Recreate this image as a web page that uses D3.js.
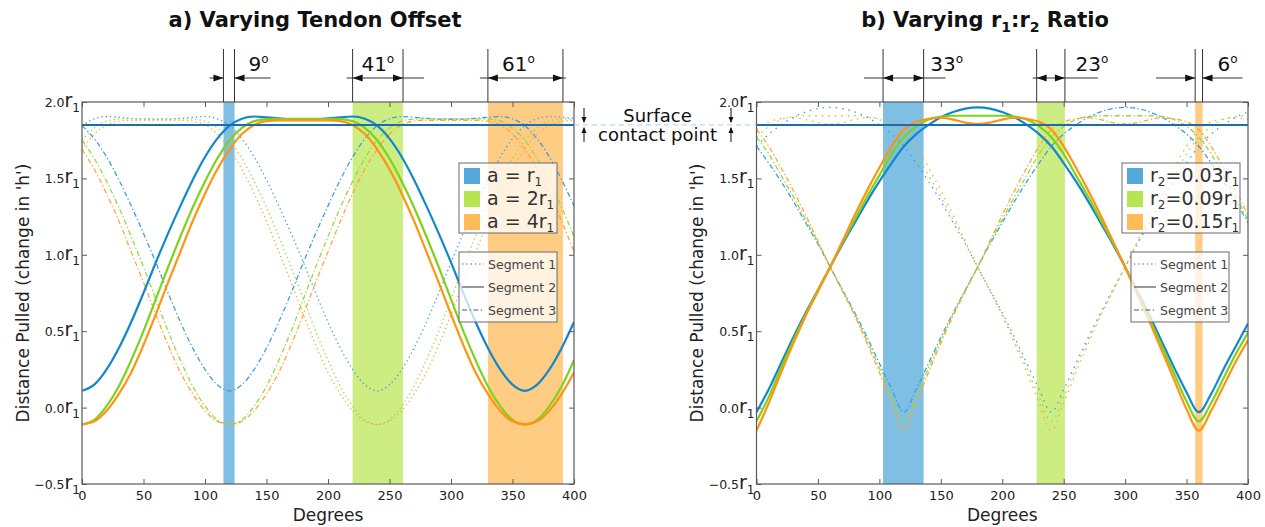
<!DOCTYPE html>
<html>
<head>
<meta charset="utf-8">
<script src="https://cdn.jsdelivr.net/npm/d3@7"></script>
<style>
body{margin:0;background:#fff;}
svg{font-family:"DejaVu Sans",Verdana,sans-serif;}
</style>
</head>
<body>
<svg id="chart" width="1265" height="527"></svg>
<script>
'use strict'

// ---- data ----
const degrees = [0,10,20,30,40,50,60,70,80,90,100,110,120,130,140,150,160,170,180,190,200,210,220,230,240,250,260,270,280,290,300,310,320,330,340,350,360,370,380,390,400]
const xTicks = [0,50,100,150,200,250,300,350,400]
const yTicks = [-0.5,0,0.5,1,1.5,2]
const contactHeight = 1.85

// a) varying tendon offset
const tendonLabels = ["r", "2r", "4r"]
const tendonBlueSeg1 = [1.845,1.89,1.905,1.90,1.893,1.888,1.887,1.888,1.893,1.90,1.905,1.89,1.845,1.76,1.64,1.49,1.32,1.14,0.95,0.75,0.56,0.39,0.25,0.15,0.11,0.15,0.25,0.39,0.56,0.75,0.95,1.14,1.32,1.49,1.64,1.76,1.845,1.89,1.905,1.90,1.893]
const tendonBlueSeg2 = [0.11,0.15,0.25,0.39,0.56,0.75,0.95,1.14,1.32,1.49,1.64,1.76,1.845,1.89,1.905,1.90,1.893,1.888,1.887,1.888,1.893,1.90,1.905,1.89,1.845,1.76,1.64,1.49,1.32,1.14,0.95,0.75,0.56,0.39,0.25,0.15,0.11,0.15,0.25,0.39,0.56]
const tendonBlueSeg3 = [1.845,1.76,1.64,1.49,1.32,1.14,0.95,0.75,0.56,0.39,0.25,0.15,0.11,0.15,0.25,0.39,0.56,0.75,0.95,1.14,1.32,1.49,1.64,1.76,1.845,1.89,1.905,1.90,1.893,1.888,1.887,1.888,1.893,1.90,1.905,1.89,1.845,1.76,1.64,1.49,1.32]
const tendonGreenSeg1 = [1.75,1.83,1.875,1.888,1.89,1.89,1.89,1.89,1.89,1.888,1.875,1.83,1.75,1.63,1.48,1.31,1.12,0.92,0.71,0.50,0.31,0.14,0.01,-0.08,-0.11,-0.08,0.01,0.14,0.31,0.50,0.71,0.92,1.12,1.31,1.48,1.63,1.75,1.83,1.875,1.888,1.89]
const tendonGreenSeg2 = [-0.11,-0.08,0.01,0.14,0.31,0.50,0.71,0.92,1.12,1.31,1.48,1.63,1.75,1.83,1.875,1.888,1.89,1.89,1.89,1.89,1.89,1.888,1.875,1.83,1.75,1.63,1.48,1.31,1.12,0.92,0.71,0.50,0.31,0.14,0.01,-0.08,-0.11,-0.08,0.01,0.14,0.31]
const tendonGreenSeg3 = [1.75,1.63,1.48,1.31,1.12,0.92,0.71,0.50,0.31,0.14,0.01,-0.08,-0.11,-0.08,0.01,0.14,0.31,0.50,0.71,0.92,1.12,1.31,1.48,1.63,1.75,1.83,1.875,1.888,1.89,1.89,1.89,1.89,1.89,1.888,1.875,1.83,1.75,1.63,1.48,1.31,1.12]
const tendonOrangeSeg1 = [1.69,1.79,1.85,1.875,1.88,1.88,1.88,1.88,1.88,1.875,1.85,1.79,1.69,1.56,1.40,1.22,1.02,0.82,0.61,0.41,0.23,0.09,-0.02,-0.09,-0.11,-0.09,-0.02,0.09,0.23,0.41,0.61,0.82,1.02,1.22,1.40,1.56,1.69,1.79,1.85,1.875,1.88]
const tendonOrangeSeg2 = [-0.11,-0.09,-0.02,0.09,0.23,0.41,0.61,0.82,1.02,1.22,1.40,1.56,1.69,1.79,1.85,1.875,1.88,1.88,1.88,1.88,1.88,1.875,1.85,1.79,1.69,1.56,1.40,1.22,1.02,0.82,0.61,0.41,0.23,0.09,-0.02,-0.09,-0.11,-0.09,-0.02,0.09,0.23]
const tendonOrangeSeg3 = [1.69,1.56,1.40,1.22,1.02,0.82,0.61,0.41,0.23,0.09,-0.02,-0.09,-0.11,-0.09,-0.02,0.09,0.23,0.41,0.61,0.82,1.02,1.22,1.40,1.56,1.69,1.79,1.85,1.875,1.88,1.88,1.88,1.88,1.88,1.875,1.85,1.79,1.69,1.56,1.40,1.22,1.02]
const tendonBands = [[115,124],[220,261],[330,391]]
const tendonBandDegrees = ["9","41","61"]

// b) varying r1:r2 ratio
const ratioLabels = ["0.03r", "0.09r", "0.15r"]
const ratioBlueSeg1 = [1.71,1.79,1.85,1.90,1.935,1.957,1.965,1.957,1.935,1.90,1.85,1.79,1.71,1.60,1.48,1.35,1.21,1.07,0.92,0.77,0.62,0.46,0.29,0.12,-0.03,0.12,0.29,0.46,0.62,0.77,0.92,1.07,1.21,1.35,1.48,1.60,1.71,1.79,1.85,1.90,1.935]
const ratioBlueSeg2 = [-0.03,0.12,0.29,0.46,0.62,0.77,0.92,1.07,1.21,1.35,1.48,1.60,1.71,1.79,1.85,1.90,1.935,1.957,1.965,1.957,1.935,1.90,1.85,1.79,1.71,1.60,1.48,1.35,1.21,1.07,0.92,0.76,0.60,0.43,0.26,0.10,-0.03,0.09,0.25,0.40,0.55]
const ratioBlueSeg3 = [1.71,1.60,1.48,1.35,1.21,1.07,0.92,0.77,0.62,0.46,0.29,0.12,-0.03,0.12,0.29,0.46,0.62,0.77,0.92,1.07,1.21,1.35,1.48,1.60,1.71,1.79,1.85,1.90,1.935,1.957,1.965,1.957,1.935,1.90,1.85,1.79,1.71,1.60,1.48,1.35,1.21]
const ratioGreenSeg1 = [1.77,1.84,1.885,1.905,1.91,1.91,1.91,1.91,1.91,1.905,1.885,1.84,1.77,1.66,1.52,1.38,1.23,1.08,0.92,0.77,0.61,0.44,0.26,0.07,-0.09,0.07,0.26,0.44,0.61,0.77,0.92,1.08,1.23,1.38,1.52,1.66,1.77,1.84,1.885,1.905,1.91]
const ratioGreenSeg2 = [-0.09,0.07,0.26,0.44,0.61,0.77,0.92,1.08,1.23,1.38,1.52,1.66,1.77,1.84,1.885,1.905,1.91,1.91,1.91,1.91,1.91,1.905,1.885,1.84,1.77,1.66,1.52,1.38,1.23,1.08,0.92,0.75,0.58,0.40,0.22,0.04,-0.09,0.03,0.19,0.35,0.49]
const ratioGreenSeg3 = [1.77,1.66,1.52,1.38,1.23,1.08,0.92,0.77,0.61,0.44,0.26,0.07,-0.09,0.07,0.26,0.44,0.61,0.77,0.92,1.08,1.23,1.38,1.52,1.66,1.77,1.84,1.885,1.905,1.91,1.91,1.91,1.91,1.91,1.905,1.885,1.84,1.77,1.66,1.52,1.38,1.23]
const ratioOrangeSeg1 = [1.82,1.87,1.89,1.897,1.885,1.865,1.856,1.865,1.885,1.897,1.89,1.87,1.82,1.71,1.57,1.42,1.26,1.09,0.92,0.76,0.60,0.42,0.23,0.03,-0.15,0.03,0.23,0.42,0.60,0.76,0.92,1.09,1.26,1.42,1.57,1.71,1.82,1.87,1.89,1.897,1.885]
const ratioOrangeSeg2 = [-0.15,0.03,0.23,0.42,0.60,0.76,0.92,1.09,1.26,1.42,1.57,1.71,1.82,1.87,1.89,1.897,1.885,1.865,1.856,1.865,1.885,1.897,1.89,1.87,1.82,1.71,1.57,1.42,1.26,1.09,0.92,0.74,0.56,0.37,0.18,-0.01,-0.15,-0.02,0.14,0.30,0.44]
const ratioOrangeSeg3 = [1.82,1.71,1.57,1.42,1.26,1.09,0.92,0.76,0.60,0.42,0.23,0.03,-0.15,0.03,0.23,0.42,0.60,0.76,0.92,1.09,1.26,1.42,1.57,1.71,1.82,1.87,1.89,1.897,1.885,1.865,1.856,1.865,1.885,1.897,1.89,1.87,1.82,1.71,1.57,1.42,1.26]
const ratioBands = [[103,136],[228,251],[357,363]]
const ratioBandDegrees = ["33","23","6"]

const segmentNames = ["Segment 1", "Segment 2", "Segment 3"]

// ---- styles ----
const lineColors = ["#1187d0", "#7dd31b", "#ff9412"]
const dotColors = ["#3d9fdd", "#94da3c", "#ffa638"]
const patchColors = ["#55a8da", "#b6e552", "#ffbb58"]
const bandColors = ["#7fbfe3", "#cdec82", "#ffcc84"]
const segDash = ["1.3,3", null, "5,2.5,1.3,2.5"]

const plotTop = 102, plotBottom = 484
const svg = d3.select("#chart")

function arrowHead(g, x, yy, dir){
	g.append("path")
		.attr("d", "M" + x + "," + yy + "L" + (x - dir*10) + "," + (yy - 3.5) + "L" + (x - dir*10) + "," + (yy + 3.5) + "Z")
		.attr("fill", "#111")
}

function drawPanel(p){
	let x = d3.scaleLinear().domain([0, 400]).range([p.x0, p.x1])
	let y = d3.scaleLinear().domain([-0.5, 2]).range([plotBottom, plotTop])
	let g = svg.append("g")

	svg.append("clipPath").attr("id", "clip" + p.id)
		.append("rect").attr("x", p.x0).attr("y", plotTop).attr("width", p.x1 - p.x0).attr("height", plotBottom - plotTop)

	// shaded bands
	g.selectAll(".band").data(p.bands).join("rect")
		.attr("class", "band")
		.attr("x", d => x(d[0])).attr("width", d => x(d[1]) - x(d[0]))
		.attr("y", plotTop).attr("height", plotBottom - plotTop)
		.attr("fill", (d, i) => bandColors[i])

	let line = d3.line().x((d, i) => x(degrees[i])).y(d => y(d)).curve(d3.curveMonotoneX)
	let cg = g.append("g").attr("clip-path", "url(#clip" + p.id + ")")

	// segments 1 and 3 first, solid segment 2 on top
	;[0, 2, 1].forEach(function(s){
		p.series.forEach(function(ser, c){
			cg.append("path")
				.attr("d", line(ser[s]))
				.attr("fill", "none")
				.attr("stroke", s == 1 ? lineColors[c] : dotColors[c])
				.attr("stroke-width", s == 1 ? 2.2 : 1.3)
				.attr("stroke-dasharray", s == 0 ? p.dotDash : segDash[s])
		})
	})

	// surface contact line
	g.append("line")
		.attr("x1", p.x0).attr("x2", p.x1)
		.attr("y1", y(contactHeight)).attr("y2", y(contactHeight))
		.attr("stroke", "#1d6cae").attr("stroke-width", 2)

	// box + inward ticks
	g.append("rect").attr("x", p.x0).attr("y", plotTop).attr("width", p.x1 - p.x0).attr("height", plotBottom - plotTop)
		.attr("fill", "none").attr("stroke", "#5a5a5a").attr("stroke-width", 1.2)

	let xb = g.append("g").attr("transform", "translate(0," + plotBottom + ")")
		.call(d3.axisBottom(x).tickValues(xTicks).tickSize(-5).tickPadding(7).tickFormat(d3.format("d")))
	xb.select(".domain").remove()
	xb.selectAll("line").attr("stroke", "#5a5a5a")
	xb.selectAll("text").attr("font-size", 13).attr("fill", "#222").attr("font-family", "DejaVu Sans")

	let xt = g.append("g").attr("transform", "translate(0," + plotTop + ")")
		.call(d3.axisTop(x).tickValues(xTicks).tickSize(-5).tickFormat(""))
	xt.select(".domain").remove()
	xt.selectAll("line").attr("stroke", "#5a5a5a")

	let yl = g.append("g").attr("transform", "translate(" + p.x0 + ",0)")
		.call(d3.axisLeft(y).tickValues(yTicks).tickSize(-5).tickFormat(""))
	yl.select(".domain").remove()
	yl.selectAll("line").attr("stroke", "#5a5a5a")

	let yr = g.append("g").attr("transform", "translate(" + p.x1 + ",0)")
		.call(d3.axisRight(y).tickValues(yTicks).tickSize(-5).tickFormat(""))
	yr.select(".domain").remove()
	yr.selectAll("line").attr("stroke", "#5a5a5a")

	let fmt = d3.format(".1f")
	let ylab = g.selectAll(".ylab").data(yTicks).join("text")
		.attr("class", "ylab")
		.attr("x", p.x0 - 2).attr("y", d => y(d) + 5)
		.attr("text-anchor", "end").attr("fill", "#222")
	ylab.append("tspan").attr("font-size", 12.5).text(d => fmt(d))
	ylab.append("tspan").attr("font-size", 19).text("r")
	ylab.append("tspan").attr("font-size", 12).attr("dy", 5).text("1")

	// axis titles
	g.append("text").attr("x", (p.x0 + p.x1)/2).attr("y", 521).attr("text-anchor", "middle")
		.attr("font-size", 17).attr("fill", "#222").text("Degrees")
	g.append("text").attr("transform", "translate(" + p.ylabelX + "," + ((plotTop + plotBottom)/2) + ") rotate(-90)")
		.attr("text-anchor", "middle").attr("dy", "0.35em")
		.attr("font-size", 17).attr("fill", "#222").text("Distance Pulled (change in 'h')")

	// title
	let t = g.append("text").attr("x", p.titleX).attr("y", 27).attr("text-anchor", "middle")
		.attr("font-size", 21).attr("font-weight", "bold").attr("fill", "#111")
	p.title.forEach(function(part){
		let ts = t.append("tspan").text(part[0])
		if (part[1] == "sub") ts.attr("font-size", 14).attr("dy", 5)
		if (part[1] == "up") ts.attr("dy", -5)
	})

	// dimension arrows above the bands
	let ag = g.append("g")
	p.bands.forEach(function(b, i){
		let lo = x(b[0]), hi = x(b[1]), d = p.dims[i], ay = 78
		;[lo, hi].forEach(function(xx){
			ag.append("line").attr("x1", xx).attr("x2", xx).attr("y1", 49).attr("y2", plotTop)
				.attr("stroke", "#333").attr("stroke-width", 1)
		})
		if (d.mode == "in"){
			ag.append("line").attr("x1", lo - d.ext[0]).attr("x2", hi + d.ext[1]).attr("y1", ay).attr("y2", ay)
				.attr("stroke", "#333").attr("stroke-width", 1)
			arrowHead(ag, lo, ay, -1)
			arrowHead(ag, hi, ay, 1)
		} else {
			ag.append("line").attr("x1", lo - d.ext[0]).attr("x2", lo).attr("y1", ay).attr("y2", ay)
				.attr("stroke", "#333").attr("stroke-width", 1)
			ag.append("line").attr("x1", hi).attr("x2", hi + d.ext[1]).attr("y1", ay).attr("y2", ay)
				.attr("stroke", "#333").attr("stroke-width", 1)
			arrowHead(ag, lo, ay, 1)
			arrowHead(ag, hi, ay, -1)
		}
		let tx = d.anchor == "right" ? hi + d.dx : (lo + hi)/2 + d.dx
		let lt = ag.append("text").attr("x", tx).attr("y", 71).attr("text-anchor", "middle")
			.attr("font-size", 20).attr("fill", "#111")
		lt.append("tspan").text(p.bandDegrees[i])
		lt.append("tspan").attr("font-size", 12).attr("dy", -8).text("o")
	})

	// colour legend
	let lg = g.append("g").attr("transform", "translate(" + p.legend[0] + "," + p.legend[1] + ")")
	lg.append("rect").attr("width", p.legend[2]).attr("height", 70)
		.attr("fill", "#fff").attr("fill-opacity", 0.75).attr("stroke", "#6a6a6a")
	p.legendLabels.forEach(function(lab, i){
		lg.append("rect").attr("x", 5).attr("y", 5 + i*23).attr("width", 16).attr("height", 16).attr("fill", patchColors[i])
		let tt = lg.append("text").attr("x", 28).attr("y", 19 + i*23).attr("font-size", 19).attr("fill", "#333")
			.attr("xml:space", "preserve")
		p.legendPrefix.forEach(function(part){
			let ts = tt.append("tspan").text(part[0])
			if (part[1] == "sub") ts.attr("font-size", 12).attr("dy", 4)
			if (part[1] == "up") ts.attr("dy", -4)
		})
		tt.append("tspan").text(lab)
		tt.append("tspan").attr("font-size", 12).attr("dy", 4).text("1")
	})

	// segment legend
	let sg = g.append("g").attr("transform", "translate(" + p.segLegend[0] + "," + p.segLegend[1] + ")")
	sg.append("rect").attr("width", 98).attr("height", 70)
		.attr("fill", "#fff").attr("fill-opacity", 0.75).attr("stroke", "#6a6a6a")
	segmentNames.forEach(function(name, i){
		sg.append("line").attr("x1", 3).attr("x2", 25).attr("y1", 12 + i*23).attr("y2", 12 + i*23)
			.attr("stroke", "#555").attr("stroke-width", 1.2).attr("stroke-dasharray", segDash[i])
		sg.append("text").attr("x", 29).attr("y", 16.5 + i*23).attr("font-size", 12.5).attr("fill", "#444").text(name)
	})
}

drawPanel({
	id: "a", x0: 82, x1: 574, ylabelX: 23, titleX: 315, dotDash: "1.3,3",
	title: [["a) Varying Tendon Offset"]],
	bands: tendonBands, bandDegrees: tendonBandDegrees,
	dims: [{mode: "out", ext: [14, 36], anchor: "right", dx: 24},
		{mode: "in", ext: [6, 21], anchor: "mid", dx: 0},
		{mode: "in", ext: [8, 3], anchor: "mid", dx: -7}],
	series: [[tendonBlueSeg1, tendonBlueSeg2, tendonBlueSeg3],
		[tendonGreenSeg1, tendonGreenSeg2, tendonGreenSeg3],
		[tendonOrangeSeg1, tendonOrangeSeg2, tendonOrangeSeg3]],
	legend: [459, 163, 98], legendLabels: tendonLabels, legendPrefix: [["a = "]],
	segLegend: [459, 252]
})

drawPanel({
	id: "b", x0: 756.5, x1: 1248, ylabelX: 697, titleX: 985, dotDash: "1.5,5",
	title: [["b) Varying r"], ["1", "sub"], [":r", "up"], ["2", "sub"], [" Ratio", "up"]],
	bands: ratioBands, bandDegrees: ratioBandDegrees,
	dims: [{mode: "in", ext: [19, 22], anchor: "right", dx: 23},
		{mode: "in", ext: [4, 33], anchor: "right", dx: 27},
		{mode: "out", ext: [39, 40], anchor: "right", dx: 25}],
	series: [[ratioBlueSeg1, ratioBlueSeg2, ratioBlueSeg3],
		[ratioGreenSeg1, ratioGreenSeg2, ratioGreenSeg3],
		[ratioOrangeSeg1, ratioOrangeSeg2, ratioOrangeSeg3]],
	legend: [1122, 163, 118], legendLabels: ratioLabels, legendPrefix: [["r"], ["2", "sub"], ["=", "up"]],
	segLegend: [1131, 252]
})

// connector + "Surface contact point" note between the panels
let ySurf = d3.scaleLinear().domain([-0.5, 2]).range([plotBottom, plotTop])(contactHeight)
svg.append("line").attr("x1", 574).attr("x2", 756.5).attr("y1", ySurf).attr("y2", ySurf)
	.attr("stroke", "#9fd2f2").attr("stroke-width", 1).attr("stroke-dasharray", "5,4")
svg.append("text").attr("x", 657.5).attr("y", 122).attr("text-anchor", "middle").attr("font-size", 18).attr("fill", "#111").text("Surface")
svg.append("text").attr("x", 657.5).attr("y", 141).attr("text-anchor", "middle").attr("font-size", 18).attr("fill", "#111").text("contact point")
;[584, 731].forEach(function(ax){
	svg.append("line").attr("x1", ax).attr("x2", ax).attr("y1", 108).attr("y2", ySurf - 3).attr("stroke", "#111")
	svg.append("path").attr("d", "M" + ax + "," + (ySurf - 2) + "L" + (ax - 2.5) + "," + (ySurf - 8) + "L" + (ax + 2.5) + "," + (ySurf - 8) + "Z").attr("fill", "#111")
	svg.append("line").attr("x1", ax).attr("x2", ax).attr("y1", ySurf + 3).attr("y2", 142).attr("stroke", "#111")
	svg.append("path").attr("d", "M" + ax + "," + (ySurf + 2) + "L" + (ax - 2.5) + "," + (ySurf + 8) + "L" + (ax + 2.5) + "," + (ySurf + 8) + "Z").attr("fill", "#111")
})
</script>
</body>
</html>
